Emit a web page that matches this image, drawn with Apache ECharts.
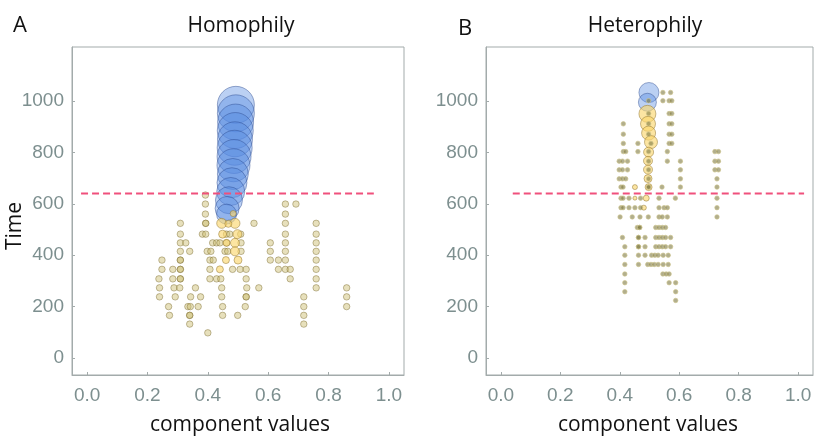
<!DOCTYPE html>
<html>
<head>
<meta charset="utf-8">
<script src="https://cdn.jsdelivr.net/npm/echarts@6/dist/echarts.min.js"></script>
<style>html,body{margin:0;padding:0;background:#fff}#c{width:829px;height:447px}</style>
</head>
<body>
<div id="c"></div>
<script>
// ---------- DATA ----------
const xTicks = [0, 0.2, 0.4, 0.6, 0.8, 1.0];
const yTicks = [0, 200, 400, 600, 800, 1000];
const threshold = 640;
const thresholdSpanA = [-0.02, 0.95];
const thresholdSpanB = [0.04, 1.02];

// Panel A (Homophily): [component value, time, bubble weight]
const blueA = [
  [0.493, 985, 37], [0.493, 952, 37], [0.492, 918, 36], [0.491, 885, 36],
  [0.490, 851, 35], [0.489, 818, 35], [0.487, 784, 34], [0.485, 750, 33],
  [0.483, 716, 31], [0.480, 682, 30], [0.476, 648, 28], [0.470, 614, 27],
  [0.464, 582, 24], [0.462, 560, 20]
];
const yellowA = [
  [0.484, 562, 6], [0.446, 524, 10], [0.490, 524, 10], [0.468, 522, 7],
  [0.449, 482, 8], [0.498, 482, 9], [0.462, 448, 7], [0.490, 448, 9],
  [0.490, 415, 9], [0.460, 381, 7], [0.500, 381, 8], [0.440, 345, 7]
];
// Panel A small dots: [component value, time]
const dotsA = [
  [0.392, 634],
  [0.392, 599], [0.657, 599], [0.692, 599],
  [0.392, 560], [0.657, 560],
  [0.309, 524], [0.393, 524], [0.393, 524], [0.553, 524], [0.657, 524], [0.759, 524],
  [0.309, 482], [0.382, 482], [0.393, 482], [0.462, 482], [0.473, 482], [0.509, 482], [0.657, 482], [0.759, 482],
  [0.309, 448], [0.327, 448], [0.416, 448], [0.429, 448], [0.440, 448], [0.462, 448], [0.510, 448], [0.607, 448], [0.657, 448], [0.759, 448],
  [0.309, 415], [0.340, 415], [0.398, 415], [0.410, 415], [0.457, 415], [0.466, 415], [0.510, 415], [0.607, 415], [0.657, 415], [0.759, 415],
  [0.248, 381], [0.309, 381], [0.309, 381], [0.407, 381], [0.418, 381], [0.607, 381], [0.634, 381], [0.657, 381], [0.759, 381],
  [0.248, 345], [0.284, 345], [0.309, 345], [0.309, 345], [0.407, 345], [0.482, 345], [0.507, 345], [0.527, 345], [0.634, 345], [0.657, 345], [0.673, 345], [0.759, 345],
  [0.238, 308], [0.284, 308], [0.309, 308], [0.309, 308], [0.407, 308], [0.429, 308], [0.443, 308], [0.527, 308], [0.673, 308], [0.759, 308],
  [0.240, 273], [0.288, 273], [0.307, 273], [0.359, 273], [0.446, 273], [0.529, 273], [0.569, 273], [0.759, 273], [0.860, 273],
  [0.240, 238], [0.292, 238], [0.343, 238], [0.376, 238], [0.446, 238], [0.527, 238], [0.527, 238], [0.718, 238], [0.860, 238],
  [0.270, 200], [0.334, 200], [0.342, 200], [0.368, 200], [0.449, 200], [0.524, 200], [0.718, 200], [0.860, 200],
  [0.273, 166], [0.340, 166], [0.340, 166], [0.449, 166], [0.499, 166], [0.718, 166],
  [0.340, 132], [0.718, 132],
  [0.400, 98]
];

// Panel B (Heterophily)
const blueB = [[0.498, 1033, 20], [0.493, 995, 18]];
const yellowB = [
  [0.493, 950, 17], [0.495, 911, 15], [0.497, 875, 14], [0.505, 840, 13],
  [0.497, 801, 10], [0.495, 767, 9], [0.495, 733, 9], [0.495, 698, 8],
  [0.497, 665, 7], [0.489, 622, 6], [0.451, 665, 5], [0.481, 585, 5], [0.451, 622, 4]
];
const dotsB = [
  [0.545, 1033], [0.571, 1033],
  [0.497, 1001], [0.545, 1001], [0.566, 1001], [0.575, 1001],
  [0.497, 951], [0.566, 951], [0.575, 951],
  [0.412, 911], [0.497, 911], [0.566, 911], [0.575, 911],
  [0.412, 871], [0.497, 871], [0.566, 871], [0.575, 871],
  [0.412, 835], [0.461, 835], [0.505, 835], [0.566, 835], [0.575, 835],
  [0.412, 803], [0.420, 803], [0.461, 803], [0.497, 803], [0.560, 803], [0.720, 803], [0.732, 803],
  [0.398, 766], [0.409, 766], [0.426, 766], [0.497, 766], [0.560, 766], [0.604, 766], [0.720, 766], [0.732, 766],
  [0.398, 732], [0.409, 732], [0.426, 732], [0.497, 732], [0.604, 732], [0.720, 732], [0.732, 732],
  [0.398, 697], [0.409, 697], [0.420, 697], [0.497, 697], [0.604, 697], [0.727, 697],
  [0.404, 665], [0.411, 665], [0.497, 665], [0.497, 665], [0.542, 665], [0.604, 665], [0.727, 665],
  [0.404, 622], [0.411, 622], [0.431, 622], [0.470, 622], [0.532, 622], [0.587, 622], [0.727, 622],
  [0.404, 585], [0.411, 585], [0.431, 585], [0.451, 585], [0.470, 585], [0.532, 585], [0.549, 585], [0.560, 585], [0.727, 585],
  [0.401, 549], [0.442, 549], [0.468, 549], [0.496, 549], [0.532, 549], [0.543, 549], [0.560, 549], [0.727, 549],
  [0.459, 508], [0.467, 508], [0.467, 508], [0.521, 508], [0.532, 508], [0.543, 508], [0.554, 508],
  [0.409, 469], [0.463, 469], [0.463, 469], [0.485, 469], [0.521, 469], [0.532, 469], [0.543, 469], [0.554, 469], [0.571, 469],
  [0.417, 433], [0.463, 433], [0.463, 433], [0.485, 433], [0.521, 433], [0.532, 433], [0.543, 433], [0.554, 433], [0.571, 433],
  [0.417, 400], [0.463, 400], [0.485, 400], [0.507, 400], [0.518, 400], [0.529, 400], [0.546, 400], [0.563, 400],
  [0.417, 364], [0.463, 364], [0.494, 364], [0.505, 364], [0.516, 364], [0.529, 364], [0.546, 364], [0.563, 364],
  [0.417, 327], [0.545, 327], [0.556, 327], [0.566, 327],
  [0.417, 293], [0.566, 293], [0.588, 293],
  [0.417, 258], [0.588, 258],
  [0.588, 224]
];

// ---------- CHART ----------
const chart = echarts.init(document.getElementById('c'), null, {renderer: 'canvas'});
const axisGray = '#a3abab';
const labelGray = '#7d8f8f';
const tickFont = 'Liberation Sans';

function xAxisCfg(gi) {
  return {
    type: 'value', gridIndex: gi, min: -0.05, max: 1.05,
    axisLine: {show: true, onZero: false, lineStyle: {color: axisGray, width: 1}},
    axisTick: {show: true, inside: true, length: 3, customValues: xTicks, lineStyle: {color: axisGray}},
    axisLabel: {customValues: xTicks, formatter: v => v.toFixed(1), color: labelGray, fontSize: 19, fontFamily: tickFont, margin: 11},
    splitLine: {show: false}
  };
}
function yAxisCfg(gi) {
  return {
    type: 'value', gridIndex: gi, min: -66, max: 1210,
    axisLine: {show: true, onZero: false, lineStyle: {color: axisGray, width: 1}},
    axisTick: {show: true, inside: true, length: 3, customValues: yTicks, lineStyle: {color: axisGray}},
    axisLabel: {customValues: yTicks, formatter: v => String(Math.round(v)), color: labelGray, fontSize: 19, fontFamily: tickFont, margin: 8},
    splitLine: {show: false}
  };
}

const blueStyle = {color: 'rgba(85,138,226,0.5)', borderColor: 'rgba(40,70,140,0.55)', borderWidth: 1};
const yellowStyle = {color: 'rgba(250,214,110,0.8)', borderColor: 'rgba(140,110,40,0.6)', borderWidth: 1};
const dotAStyle = {color: 'rgba(205,190,115,0.6)', borderColor: 'rgba(120,105,45,0.55)', borderWidth: 1};
const dotBStyle = {color: 'rgba(125,120,65,0.75)', borderColor: 'rgba(205,195,140,0.8)', borderWidth: 1};
const lineStyle = {color: '#f0507c', width: 2, type: [7, 4]};

const option = {
  animation: false,
  grid: [
    {left: 72, top: 47, width: 332, height: 328, show: true, borderColor: axisGray, borderWidth: 1, backgroundColor: '#fff'},
    {left: 486, top: 47, width: 327, height: 328, show: true, borderColor: axisGray, borderWidth: 1, backgroundColor: '#fff'}
  ],
  xAxis: [xAxisCfg(0), xAxisCfg(1)],
  yAxis: [yAxisCfg(0), yAxisCfg(1)],
  series: [
    {type: 'scatter', xAxisIndex: 0, yAxisIndex: 0, data: dotsA, symbolSize: 6.5, itemStyle: dotAStyle, z: 2},
    {type: 'scatter', xAxisIndex: 0, yAxisIndex: 0, data: blueA, symbolSize: d => d[2], itemStyle: blueStyle, z: 3},
    {type: 'scatter', xAxisIndex: 0, yAxisIndex: 0, data: yellowA, symbolSize: d => d[2], itemStyle: yellowStyle, z: 4},
    {type: 'line', xAxisIndex: 0, yAxisIndex: 0, data: [[thresholdSpanA[0], threshold], [thresholdSpanA[1], threshold]], showSymbol: false, symbol: 'none', lineStyle: lineStyle, z: 5},
    {type: 'scatter', xAxisIndex: 1, yAxisIndex: 1, data: blueB, symbolSize: d => d[2], itemStyle: blueStyle, z: 3},
    {type: 'scatter', xAxisIndex: 1, yAxisIndex: 1, data: yellowB, symbolSize: d => d[2], itemStyle: yellowStyle, z: 3},
    {type: 'scatter', xAxisIndex: 1, yAxisIndex: 1, data: dotsB, symbolSize: 4.5, itemStyle: dotBStyle, z: 4},
    {type: 'line', xAxisIndex: 1, yAxisIndex: 1, data: [[thresholdSpanB[0], threshold], [thresholdSpanB[1], threshold]], showSymbol: false, symbol: 'none', lineStyle: lineStyle, z: 5}
  ],
  graphic: [
    {type: 'text', x: 20, y: 26, style: {text: 'A', font: '22px "Open Sans"', fill: '#111', align: 'center', verticalAlign: 'middle'}},
    {type: 'text', x: 241, y: 26, style: {text: 'Homophily', font: '21px "Open Sans"', fill: '#111', align: 'center', verticalAlign: 'middle'}},
    {type: 'text', x: 465, y: 29, style: {text: 'B', font: '22px "Open Sans"', fill: '#111', align: 'center', verticalAlign: 'middle'}},
    {type: 'text', x: 645, y: 26, style: {text: 'Heterophily', font: '21px "Open Sans"', fill: '#111', align: 'center', verticalAlign: 'middle'}},
    {type: 'text', x: 15, y: 226, rotation: Math.PI / 2, style: {text: 'Time', font: '21px "Open Sans"', fill: '#111', align: 'center', verticalAlign: 'middle'}},
    {type: 'text', x: 240, y: 425, style: {text: 'component values', font: '21px "Open Sans"', fill: '#111', align: 'center', verticalAlign: 'middle'}},
    {type: 'text', x: 648, y: 425, style: {text: 'component values', font: '21px "Open Sans"', fill: '#111', align: 'center', verticalAlign: 'middle'}}
  ]
};
chart.setOption(option);
</script>
</body>
</html>
